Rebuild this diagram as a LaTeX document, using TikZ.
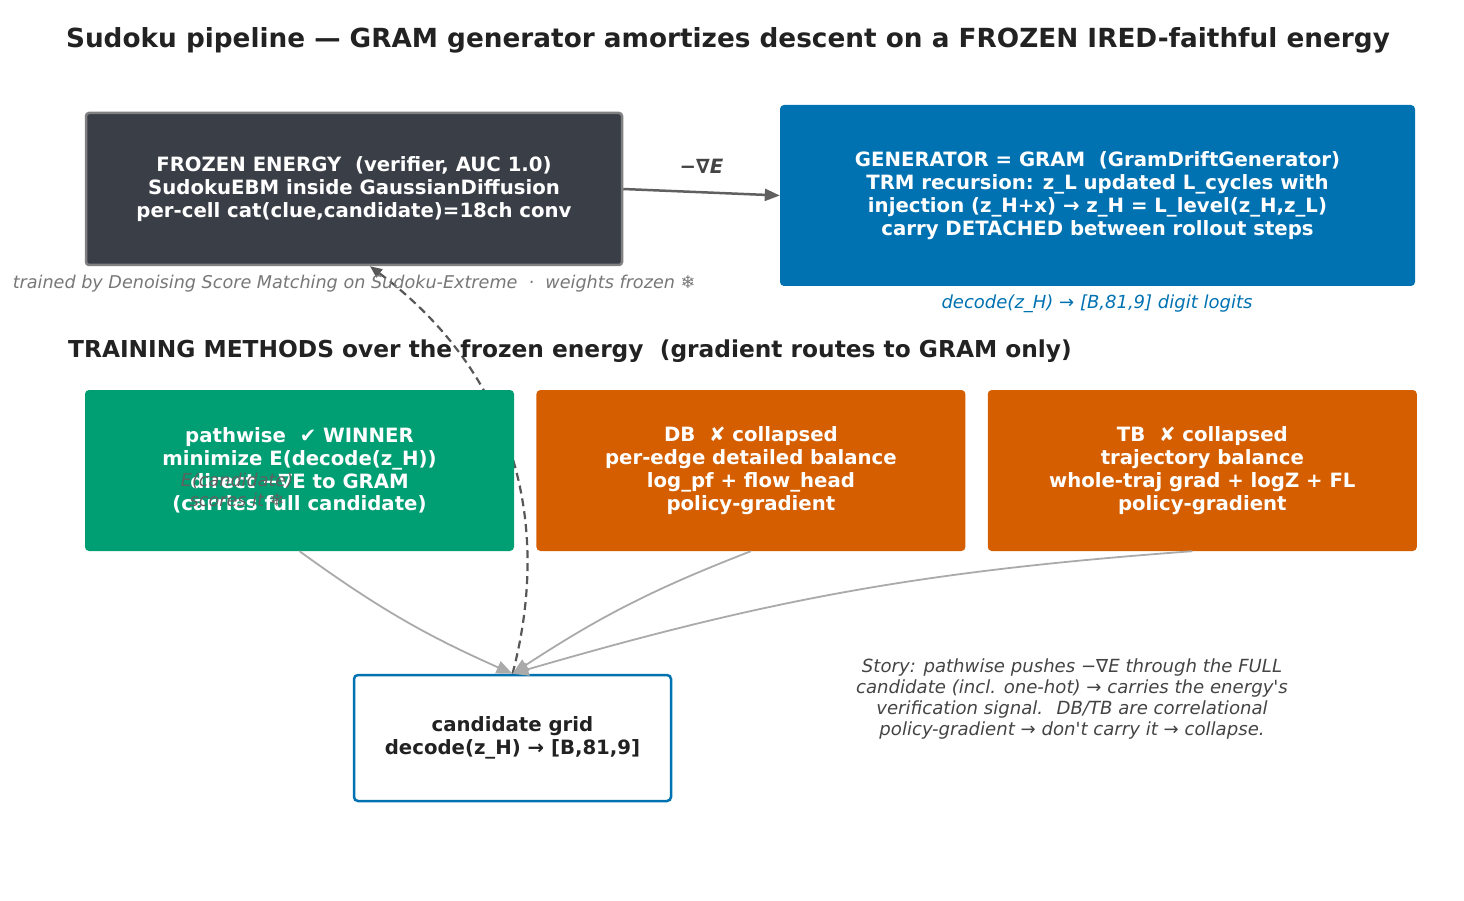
\documentclass[tikz,border=0pt]{standalone}
\usepackage{fontspec}
\setmainfont{DejaVu Sans}[BoldFont={DejaVu Sans Bold},ItalicFont={DejaVu Sans Oblique},BoldItalicFont={DejaVu Sans Bold Oblique}]
\newfontfamily\symfont{DejaVu Sans}[BoldFont={DejaVu Sans},ItalicFont={DejaVu Sans},BoldItalicFont={DejaVu Sans}]
\usetikzlibrary{arrows.meta,positioning,backgrounds}
\definecolor{frozenfill}{HTML}{3A3F47}
\definecolor{frozenedge}{HTML}{808080}
\definecolor{gramblue}{HTML}{0072B2}
\definecolor{winnergreen}{HTML}{009E73}
\definecolor{failorange}{HTML}{D55E00}
\definecolor{inkdark}{HTML}{222222}
\definecolor{capgray}{HTML}{777777}
\definecolor{storygray}{HTML}{444444}
\definecolor{arrowdark}{HTML}{606060}
\definecolor{arrowlight}{HTML}{AAAAAA}
\tikzset{
  boxtext/.style={font=\fontsize{19.7}{22.8}\selectfont\bfseries, align=center},
  frozenbox/.style={rectangle, rounded corners=3pt, boxtext, draw=frozenedge, line width=2.5pt, fill=frozenfill, text=white, minimum width=536pt, minimum height=152pt},
  genbox/.style={rectangle, rounded corners=4pt, boxtext, fill=gramblue, text=white, minimum width=635pt, minimum height=181pt},
  methodbox/.style={rectangle, rounded corners=4pt, boxtext, text=white, minimum width=429pt, minimum height=161pt},
  gridbox/.style={rectangle, rounded corners=4pt, boxtext, draw=gramblue, line width=2.5pt, fill=white, text=inkdark, minimum width=317pt, minimum height=126pt},
  caption/.style={font=\fontsize{17.6}{20.5}\selectfont\itshape, align=center},
  heading/.style={font=\fontsize{23.3}{27}\selectfont\bfseries, text=inkdark, inner sep=0pt},
  flow/.style={-{Triangle[length=15pt,width=12pt]}, line width=2.5pt, draw=arrowdark},
  feed/.style={-{Triangle[length=16pt,width=13pt]}, line width=1.8pt, draw=arrowlight},
  scores/.style={-{Triangle[length=12pt,width=10pt]}, line width=2.2pt, dash pattern=on 8pt off 5pt, draw=storygray!90},
}
\begin{document}
\begin{tikzpicture}[x=1pt, y=-1pt]
  \useasboundingbox (0,0) rectangle (1464,901);
  \node[font=\fontsize{26.3}{31}\selectfont\bfseries, text=inkdark] (title) at (728,40) {Sudoku pipeline — GRAM generator amortizes descent on a FROZEN IRED-faithful energy};
  \node[frozenbox] (frozen) at (354,189) {FROZEN ENERGY~ (verifier, AUC 1.0)\\SudokuEBM inside GaussianDiffusion\\per-cell cat(clue,candidate)=18ch conv};
  \node[caption, text=capgray] (frozencap) at (354,284) {trained by Denoising Score Matching on Sudoku-Extreme~ ·~ weights frozen {\symfont ❄}};
  \node[genbox] (gen) at (1097.5,195.5) {GENERATOR = GRAM~ (GramDriftGenerator)\\TRM recursion: z\_L updated L\_cycles with\\injection (z\_H+x) → z\_H = L\_level(z\_H,z\_L)\\carry DETACHED between rollout steps};
  \node[caption, text=gramblue, font=\fontsize{18}{21}\selectfont\itshape] (gencap) at (1097,304) {decode(z\_H) → [B,81,9] digit logits};
  \node[heading, anchor=west] (methods) at (68,351) {TRAINING METHODS over the frozen energy~ (gradient routes to GRAM only)};
  \node[methodbox, fill=winnergreen] (pathwise) at (299.5,470.5) {pathwise~ {\symfont ✔} WINNER\\minimize E(decode(z\_H))\\direct −∇E to GRAM\\(carries full candidate)};
  \node[methodbox, fill=failorange, right=22pt of pathwise] (db) {DB~ {\symfont ✘} collapsed\\per-edge detailed balance\\log\_pf + flow\_head\\policy-gradient};
  \node[methodbox, fill=failorange, right=22pt of db] (tb) {TB~ {\symfont ✘} collapsed\\trajectory balance\\whole-traj grad + logZ + FL\\policy-gradient};
  \node[gridbox] (grid) at (512.5,738) {candidate grid\\decode(z\_H) → [B,81,9]};
  \node[caption, text=storygray, font=\fontsize{18.1}{21}\selectfont\itshape] (story) at (1072,699) {Story: pathwise pushes −∇E through the FULL\\candidate (incl. one-hot) → carries the energy\textquotesingle s\\verification signal.~ DB/TB are correlational\\policy-gradient → don\textquotesingle t carry it → collapse.};
  \node[caption, text=storygray!85] (scorelbl) at (237,490) {E(candidate)\\scores it {\symfont ❄}};
  \draw[flow] (frozen.east) -- node[midway, yshift=26pt, text=storygray, font=\fontsize{19.7}{22}\selectfont\bfseries\itshape] {−∇E} (gen.west);
  \draw[feed] (pathwise.south) to[bend right=6] (grid.north);
  \draw[feed] (db.south) to[bend right=6] (grid.north);
  \draw[feed] ([xshift=-10pt]tb.south) to[bend right=6] (grid.north);
  \begin{scope}[on background layer]
    \draw[scores] (grid.north) to[bend right=34] ([xshift=16pt]frozen.south);
  \end{scope}
\end{tikzpicture}
\end{document}
